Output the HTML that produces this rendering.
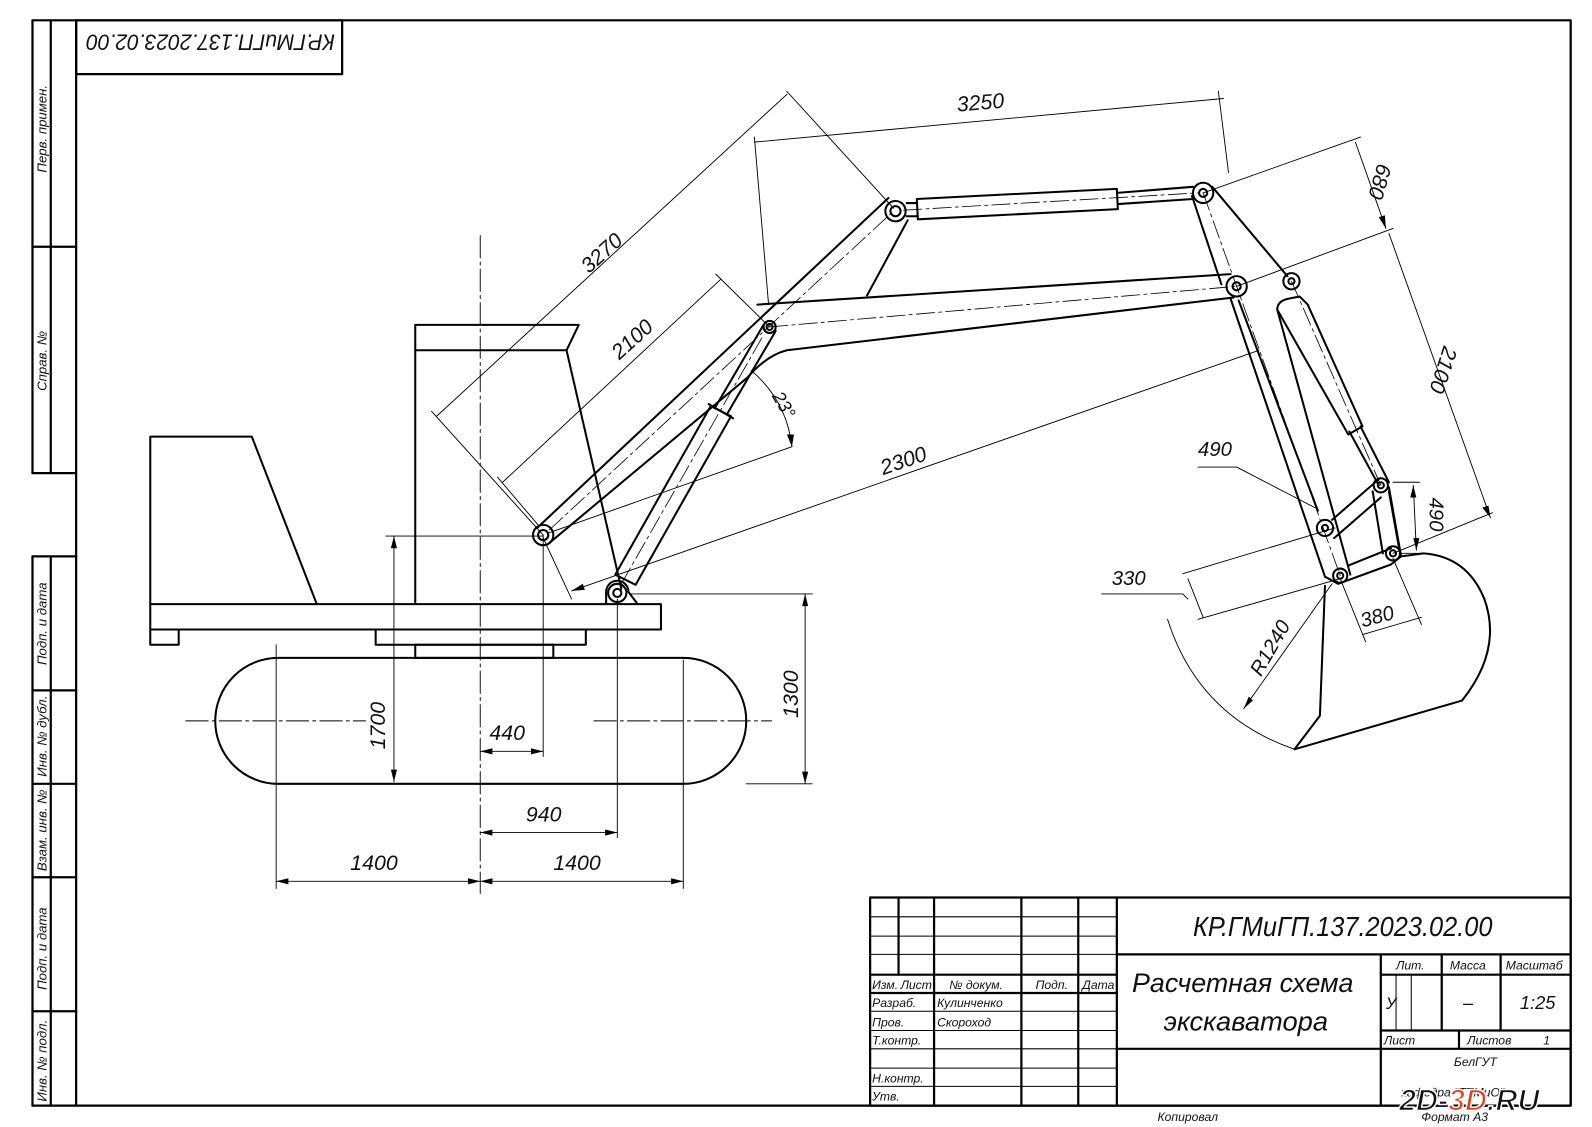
<!DOCTYPE html>
<html><head><meta charset="utf-8"><style>
html,body{margin:0;padding:0;background:#fff;}
svg{display:block;}
text{font-family:"Liberation Sans","DejaVu Sans",sans-serif;font-style:italic;fill:#111;}
</style></head><body>
<svg width="1592" height="1127" viewBox="0 0 1592 1127" xmlns="http://www.w3.org/2000/svg">
<g transform="scale(1.0153)" stroke="#000" fill="none" stroke-linecap="round" stroke-linejoin="round">

<!-- Frame -->
<g stroke-width="2.2">
<rect x="75" y="20" width="1472" height="1069"/>
<line x1="32" y1="20" x2="32" y2="466"/><line x1="50" y1="20" x2="50" y2="466"/>
<line x1="32" y1="20" x2="75" y2="20"/><line x1="32" y1="243" x2="75" y2="243"/><line x1="32" y1="466" x2="75" y2="466"/>
<line x1="32" y1="548" x2="32" y2="1089"/><line x1="50" y1="548" x2="50" y2="1089"/>
<line x1="32" y1="548" x2="75" y2="548"/><line x1="32" y1="680" x2="75" y2="680"/><line x1="32" y1="772" x2="75" y2="772"/><line x1="32" y1="864" x2="75" y2="864"/><line x1="32" y1="996" x2="75" y2="996"/><line x1="32" y1="1089" x2="75" y2="1089"/>
<rect x="75" y="20" width="262" height="53"/>
</g>
<g stroke="none" font-size="13">
<text transform="translate(46,170) rotate(-90)">Перв. примен.</text>
<text transform="translate(46,385) rotate(-90)">Справ. №</text>
<text transform="translate(46,655) rotate(-90)">Подп. и дата</text>
<text transform="translate(46,765) rotate(-90)">Инв. № дубл.</text>
<text transform="translate(46,858) rotate(-90)">Взам. инв. №</text>
<text transform="translate(46,975) rotate(-90)">Подп. и дата</text>
<text transform="translate(46,1085) rotate(-90)">Инв. № подл.</text>
<text transform="translate(330,34) rotate(180)" font-size="22" textLength="245" lengthAdjust="spacingAndGlyphs">КР.ГМиГП.137.2023.02.00</text>
</g>

<!-- Title block -->
<g stroke-width="2.2">
<rect x="857" y="884" width="690" height="205"/>
<line x1="885" y1="884" x2="885" y2="960"/><line x1="920" y1="884" x2="920" y2="1089"/><line x1="1006" y1="884" x2="1006" y2="1089"/><line x1="1062" y1="884" x2="1062" y2="1089"/><line x1="1100" y1="884" x2="1100" y2="1089"/>
<line x1="857" y1="960" x2="1100" y2="960"/><line x1="857" y1="978" x2="1100" y2="978"/>
<line x1="1100" y1="940" x2="1547" y2="940"/><line x1="1100" y1="1033" x2="1547" y2="1033"/>
<line x1="1360" y1="940" x2="1360" y2="1089"/>
<line x1="1360" y1="960" x2="1547" y2="960"/><line x1="1360" y1="1015" x2="1547" y2="1015"/>
<line x1="1420" y1="940" x2="1420" y2="1015"/><line x1="1478" y1="940" x2="1478" y2="1015"/>
<line x1="1437" y1="1015" x2="1437" y2="1033"/>
</g>
<g stroke-width="1">
<line x1="857" y1="903" x2="1100" y2="903"/><line x1="857" y1="922" x2="1100" y2="922"/><line x1="857" y1="940" x2="1100" y2="940"/>
<line x1="857" y1="996" x2="1100" y2="996"/><line x1="857" y1="1015" x2="1100" y2="1015"/><line x1="857" y1="1033" x2="1100" y2="1033"/><line x1="857" y1="1052" x2="1100" y2="1052"/><line x1="857" y1="1070" x2="1100" y2="1070"/>
<line x1="1375" y1="960" x2="1375" y2="1015"/><line x1="1390" y1="960" x2="1390" y2="1015"/>
</g>
<g stroke="none">
<text x="1175" y="922" font-size="27" textLength="295" lengthAdjust="spacingAndGlyphs">КР.ГМиГП.137.2023.02.00</text>
<text x="1115" y="977" font-size="26" textLength="218" lengthAdjust="spacingAndGlyphs">Расчетная схема</text>
<text x="1146" y="1015" font-size="26" textLength="162" lengthAdjust="spacingAndGlyphs">экскаватора</text>
<g font-size="12">
<text x="859" y="974">Изм.</text><text x="887" y="974">Лист</text><text x="935" y="974">№ докум.</text><text x="1020" y="974">Подп.</text><text x="1066" y="974">Дата</text>
<text x="859" y="992">Разраб.</text><text x="923" y="992">Кулинченко</text>
<text x="859" y="1011">Пров.</text><text x="923" y="1011">Скороход</text>
<text x="859" y="1029">Т.контр.</text>
<text x="859" y="1066">Н.контр.</text>
<text x="859" y="1084">Утв.</text>
<text x="1375" y="955">Лит.</text><text x="1428" y="955">Масса</text><text x="1483" y="955">Масштаб</text>
<text x="1363" y="1029">Лист</text><text x="1445" y="1029">Листов</text><text x="1520" y="1029">1</text>
<text x="1432" y="1050">БелГУТ</text>
<text x="1380" y="1080">кафедра "ТТМиО"</text>
<text x="1140" y="1104">Копировал</text><text x="1400" y="1104">Формат   А3</text>
</g>
<text x="1365" y="994" font-size="16">У</text>
<text x="1441" y="994" font-size="18">–</text>
<text x="1497" y="994" font-size="18">1:25</text>
<text x="1378" y="1094" font-size="30" font-weight="bold" font-style="normal" fill="#222" stroke="#fff" stroke-width="1.5">2D-<tspan fill="#d42">3D</tspan>.RU</text>
</g>

<!-- Base machine -->
<g stroke-width="2">
<path d="M274 648 H673 A62 62 0 0 1 673 772 H274 A62 62 0 0 1 274 648 Z"/>
<rect x="148" y="595" width="503" height="25"/>
<path d="M148 595 V430 H248 L312 595"/>
<path d="M148 620 V635 H176 V620"/>
<rect x="370" y="620" width="207" height="15"/>
<rect x="409" y="635" width="136" height="13"/>
<path d="M409 595 V320 H570 L558 345 L612 580"/>
<line x1="409" y1="345" x2="558" y2="345"/>
<path d="M597 595 V583 A11 11 0 0 1 619 583 L628 595"/>
<circle cx="608" cy="584" r="9"/><circle cx="608" cy="584" r="4"/>
</g>
<g stroke-width="0.9" stroke-dasharray="22 4 3 4">
<line x1="183" y1="710" x2="360" y2="710"/><line x1="585" y1="710" x2="760" y2="710"/>
<line x1="473" y1="232" x2="473" y2="880"/>
</g>

<!-- Boom -->
<g stroke-width="2">
<line x1="529" y1="520" x2="875" y2="195"/>
<path d="M542 534 L736 372 Q755 350 775 345 L1215 293"/>
<line x1="746" y1="300" x2="1212" y2="270"/>
<line x1="894" y1="217" x2="854" y2="291"/>
<circle cx="535" cy="527" r="10"/><circle cx="535" cy="527" r="5"/>
<circle cx="882" cy="208" r="10"/><circle cx="882" cy="208" r="5"/>
<circle cx="758" cy="322" r="6"/><circle cx="758" cy="322" r="3"/>
<!-- boom cylinder -->
<polygon points="606,566 626,576 720,410 700,400"/>
<line x1="704" y1="402" x2="752" y2="320"/><line x1="716" y1="408" x2="764" y2="326"/>
<line x1="698" y1="398" x2="722" y2="412"/>
<!-- top cylinder -->
<path d="M903 196 L1100 186 L1101 206 L904 216 Z"/>
<line x1="893" y1="200" x2="903" y2="200"/><line x1="893" y1="213" x2="903" y2="213"/>
<line x1="1100" y1="190" x2="1175" y2="184"/><line x1="1101" y1="201" x2="1175" y2="196"/>
</g>
<g stroke-width="0.8" stroke-dasharray="18 4 3 4">
<line x1="541" y1="522" x2="880" y2="208"/><line x1="612" y1="575" x2="752" y2="330"/><line x1="758" y1="322" x2="1218" y2="282"/><line x1="890" y1="207" x2="1180" y2="190"/>
</g>

<!-- Stick -->
<g stroke-width="2">
<path d="M1174 193 L1203 280"/>
<path d="M1194 184 L1268 272"/>
<path d="M1212 294 L1305 568 L1318 575 L1370 556 L1380 548 L1368 480"/>
<path d="M1220 296 L1298 503"/>
<circle cx="1185" cy="190" r="10"/><circle cx="1185" cy="190" r="4"/>
<circle cx="1218" cy="282" r="10"/><circle cx="1218" cy="282" r="4"/>
<circle cx="1272" cy="277" r="8"/><circle cx="1272" cy="277" r="3"/>
<path d="M1258 305 Q1258 296 1270 294 L1280 292 L1288 300 L1342 420 L1328 428 Z"/>
<path d="M1258 305 L1330 566"/>
<line x1="1329" y1="425" x2="1358" y2="478"/><line x1="1340" y1="420" x2="1368" y2="475"/>
<line x1="1312" y1="512" x2="1358" y2="472"/><line x1="1314" y1="530" x2="1360" y2="490"/>
<line x1="1352" y1="484" x2="1362" y2="545"/><line x1="1368" y1="484" x2="1378" y2="540"/>
<line x1="1328" y1="557" x2="1370" y2="540"/>
<circle cx="1305" cy="520" r="8"/><circle cx="1305" cy="520" r="3"/>
<circle cx="1360" cy="478" r="7"/><circle cx="1360" cy="478" r="3"/>
<circle cx="1372" cy="545" r="7"/><circle cx="1372" cy="545" r="3"/>
<circle cx="1320" cy="567" r="7"/><circle cx="1320" cy="567" r="3"/>
<path d="M1305 577 L1300 705 L1275 738 L1440 690 Q1480 640 1462 590 Q1445 548 1402 545 L1380 548"/>
</g>
<g stroke-width="0.8" stroke-dasharray="18 4 3 4">
<line x1="1185" y1="190" x2="1320" y2="567"/><line x1="1272" y1="277" x2="1360" y2="478"/>
</g>

<!-- Dimension lines -->
<g stroke-width="0.9">
<line x1="743" y1="140" x2="1205" y2="97"/><line x1="743" y1="135" x2="757" y2="300"/><line x1="1200" y1="90" x2="1210" y2="170"/>
<line x1="430" y1="410" x2="775" y2="93"/><line x1="775" y1="90" x2="880" y2="205"/><line x1="425" y1="405" x2="535" y2="527"/>
<line x1="495" y1="475" x2="710" y2="275"/><line x1="705" y1="270" x2="758" y2="322"/><line x1="490" y1="470" x2="530" y2="517"/>
<line x1="1185" y1="190" x2="1340" y2="135"/><line x1="1335" y1="140" x2="1365" y2="225"/>
<line x1="1218" y1="282" x2="1372" y2="225"/><line x1="1368" y1="230" x2="1468" y2="510"/>
<line x1="1372" y1="545" x2="1470" y2="505"/>
<line x1="563" y1="582" x2="1240" y2="345"/><line x1="535" y1="530" x2="563" y2="590"/>
<line x1="540" y1="525" x2="780" y2="440"/>
<path d="M740 365 Q775 395 780 440"/>
<path d="M1180 460 H1218 L1295 500"/>
<line x1="1372" y1="475" x2="1398" y2="475"/><line x1="1378" y1="545" x2="1400" y2="545"/><line x1="1392" y1="478" x2="1395" y2="542"/>
<path d="M1085 585 H1165 L1170 590"/><line x1="1165" y1="565" x2="1315" y2="520"/><line x1="1180" y1="610" x2="1320" y2="570"/><line x1="1170" y1="570" x2="1185" y2="608"/>
<line x1="1320" y1="570" x2="1345" y2="632"/><line x1="1372" y1="550" x2="1400" y2="615"/><line x1="1342" y1="625" x2="1400" y2="608"/>
<line x1="1225" y1="698" x2="1312" y2="575"/>
<path d="M1150 610 Q1180 705 1275 738"/>
<line x1="380" y1="528" x2="535" y2="528"/><line x1="388" y1="528" x2="388" y2="770"/>
<line x1="535" y1="527" x2="535" y2="745"/><line x1="473" y1="740" x2="535" y2="740"/>
<line x1="608" y1="590" x2="608" y2="825"/><line x1="473" y1="820" x2="608" y2="820"/>
<line x1="272" y1="635" x2="272" y2="875"/><line x1="673" y1="650" x2="673" y2="875"/><line x1="272" y1="868" x2="673" y2="868"/>
<line x1="620" y1="585" x2="800" y2="585"/><line x1="735" y1="772" x2="800" y2="772"/><line x1="793" y1="585" x2="793" y2="772"/>
</g>
<g fill="#000" stroke="none">
<polygon points="388,770 385,758 391,758"/><polygon points="388,528 385,540 391,540"/>
<polygon points="473,740 485,737 485,743"/><polygon points="535,740 523,737 523,743"/>
<polygon points="473,820 485,817 485,823"/><polygon points="608,820 596,817 596,823"/>
<polygon points="272,868 284,865 284,871"/><polygon points="473,868 461,865 461,871"/><polygon points="473,868 485,865 485,871"/><polygon points="673,868 661,865 661,871"/>
<polygon points="793,585 790,597 796,597"/><polygon points="793,772 790,760 796,760"/>
<polygon points="563,582 574,575 576,581"/><polygon points="780,440 775,428 782,428"/>
<polygon points="1468,510 1460,500 1466,498"/><polygon points="1365,225 1358,214 1364,212"/>
<polygon points="1392,478 1389,490 1395,490"/><polygon points="1395,542 1392,530 1398,530"/>
<polygon points="1225,698 1230,686 1234,690"/>
</g>
<g stroke="none" font-size="21">
<text transform="translate(943,110) rotate(-5)">3250</text>
<text transform="translate(580,270) rotate(-42)">3270</text>
<text transform="translate(610,355) rotate(-42)">2100</text>
<text transform="translate(1357,160) rotate(106)">680</text>
<text transform="translate(1422,340) rotate(108)">2100</text>
<text transform="translate(870,468) rotate(-19)">2300</text>
<text transform="translate(760,390) rotate(60)" font-size="18">23°</text>
<text x="1180" y="449" font-size="20">490</text>
<text transform="translate(1408,490) rotate(90)" font-size="20">490</text>
<text x="1095" y="576" font-size="20">330</text>
<text transform="translate(1342,618) rotate(-15)" font-size="20">380</text>
<text transform="translate(1242,667) rotate(-60)" font-size="20">R1240</text>
<text transform="translate(379,738) rotate(-90)">1700</text>
<text x="482" y="729">440</text>
<text x="518" y="809">940</text>
<text x="345" y="857">1400</text>
<text x="545" y="857">1400</text>
<text transform="translate(786,707) rotate(-90)">1300</text>
</g>
</g>
</svg>
</body></html>
